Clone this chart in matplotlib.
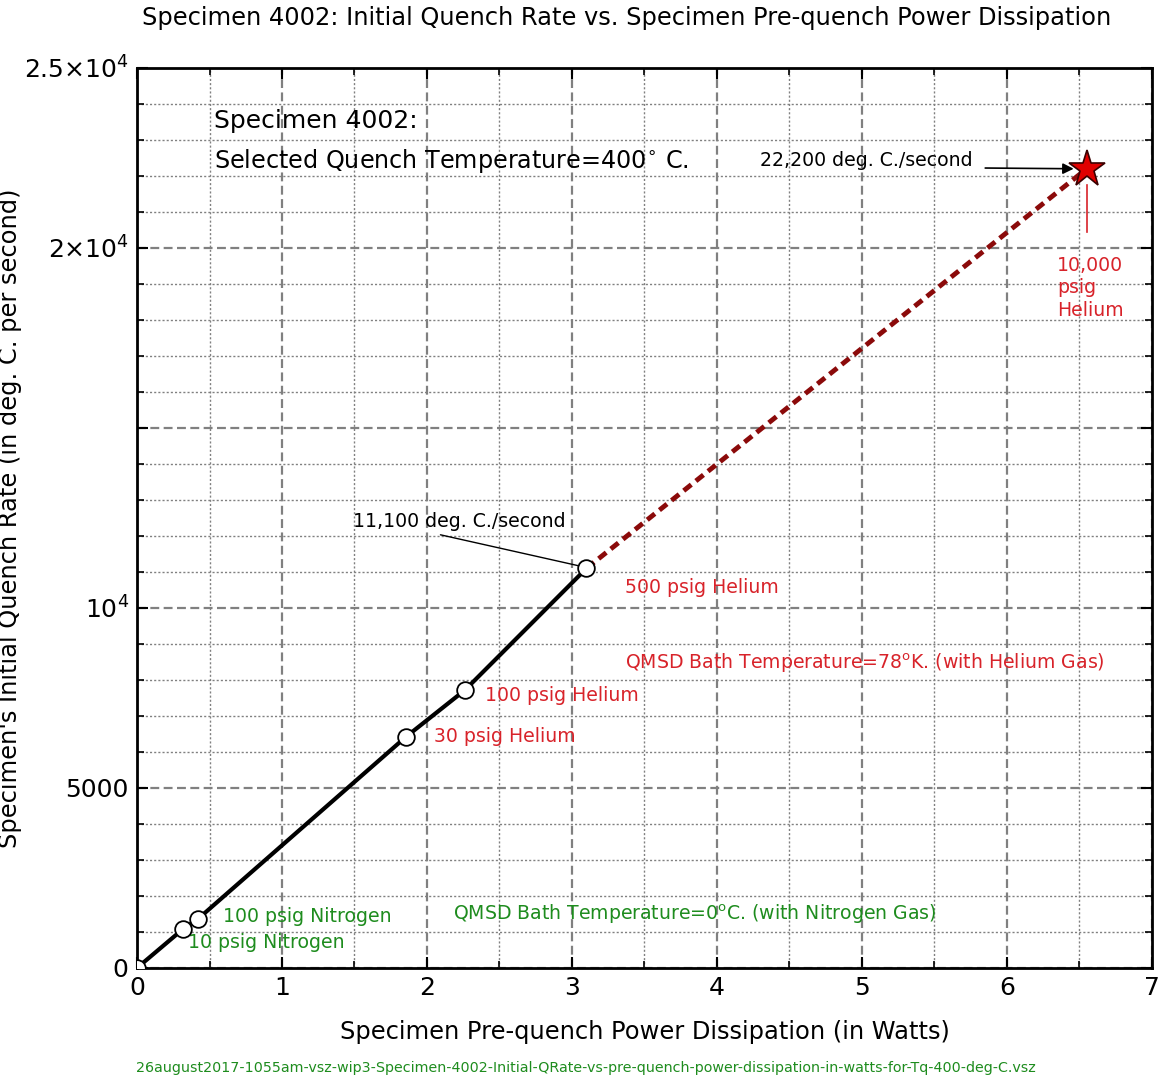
import matplotlib
matplotlib.use("Agg")
import matplotlib.pyplot as plt
from matplotlib.ticker import MultipleLocator

plt.rcParams['font.family'] = ['DejaVu Sans']
plt.rcParams['mathtext.fontset'] = 'dejavusans'

# ── data ──
labels = ["origin", "10 psig Nitrogen", "100 psig Nitrogen", "30 psig Helium",
          "100 psig Helium", "500 psig Helium"]
power_w = [0.0, 0.317, 0.42, 1.855, 2.262, 3.10]
qrate = [0, 1080, 1360, 6420, 7720, 11100]

star_power = 6.55
star_qrate = 22200

ytick_vals = [0, 5000, 10000, 15000, 20000, 25000]
ytick_labels = ["0", "5000", r"$10^4$", "", r"$2{\times}10^4$", r"$2.5{\times}10^4$"]

red = "#d8232a"
green = "#1e8c1e"

fig = plt.figure(figsize=(11.67, 10.82), dpi=100)
ax = fig.add_axes([0.1174, 0.1054, 0.8697, 0.8318])

ax.set_xlim(0, 7)
ax.set_ylim(0, 25000)

# grille : pointillés fins pour les mineures, tirets pour les majeures
ax.xaxis.set_major_locator(MultipleLocator(1))
ax.xaxis.set_minor_locator(MultipleLocator(0.5))
ax.set_yticks(ytick_vals)
ax.set_yticklabels(ytick_labels)
ax.yaxis.set_minor_locator(MultipleLocator(1000))
ax.grid(True, which='major', linestyle=(0, (4, 2)), color='#808080', linewidth=1.6)
ax.grid(True, which='minor', linestyle=(0, (1.5, 1.5)), color='#808080', linewidth=1.0)
ax.set_axisbelow(True)

ax.tick_params(which='both', direction='in', top=True, right=True, labelsize=18, pad=6)
ax.tick_params(which='major', length=8, width=1.5)
ax.tick_params(which='minor', length=5, width=1.2)
for s in ax.spines.values():
    s.set_linewidth(2)

# courbes
ax.plot(power_w, qrate, color='black', linewidth=3, zorder=4)
ax.plot([power_w[-1], star_power], [qrate[-1], star_qrate], color='#8b0a0a',
        linewidth=3.5, linestyle=(0, (2, 1.2)), zorder=4)
ax.plot(power_w, qrate, linestyle='none', marker='o', markersize=12,
        markerfacecolor='white', markeredgecolor='black', markeredgewidth=1.3,
        zorder=5)
ax.plot([star_power], [star_qrate], linestyle='none', marker='*', markersize=28,
        markerfacecolor='#e00000', markeredgecolor='#3a0000', markeredgewidth=1.2,
        zorder=6)

# annotations
fs = 13.6
ax.text(0.53, 23530, "Specimen 4002:", fontsize=18, va='center')
ax.text(0.53, 22420, "Selected Quench Temperature=400$^{\\circ}$ C.", fontsize=17.2, va='center')

ax.text(4.3, 22420, "22,200 deg. C./second", fontsize=fs, va='center')
ax.annotate("", xy=(star_power - 0.09, star_qrate), xytext=(5.85, star_qrate + 20),
            arrowprops=dict(arrowstyle='-|>', color='black', lw=1.2,
                            shrinkA=0, shrinkB=0, mutation_scale=16))
ax.plot([star_power, star_power], [20440, 21750], color=red, linewidth=1.2)
ax.text(6.345, 18890, "10,000\npsig\nHelium", color=red, fontsize=fs,
        va='center', ha='left', linespacing=1.25)

ax.annotate("11,100 deg. C./second", xy=(3.07, 11150), xytext=(1.49, 12390),
            fontsize=fs, va='center', ha='left',
            arrowprops=dict(arrowstyle='-', color='black', lw=1.0,
                            shrinkA=2, shrinkB=0, relpos=(0.34, 0)))
ax.text(3.366, 10556, "500 psig Helium", color=red, fontsize=fs, va='center')
ax.text(3.366, 8472, "QMSD Bath Temperature=78$^{\\mathrm{o}}$K. (with Helium Gas)",
        color=red, fontsize=fs, va='center')
ax.text(2.40, 7556, "100 psig Helium", color=red, fontsize=fs, va='center')
ax.text(2.048, 6417, "30 psig Helium", color=red, fontsize=fs, va='center')
ax.text(0.593, 1417, "100 psig Nitrogen", color=green, fontsize=fs, va='center')
ax.text(0.352, 694, "10 psig Nitrogen", color=green, fontsize=fs, va='center')
ax.text(2.179, 1500, "QMSD Bath Temperature=0$^{\\mathrm{o}}$C. (with Nitrogen Gas)",
        color=green, fontsize=fs, va='center')

ax.set_xlabel("Specimen Pre-quench Power Dissipation (in Watts)", fontsize=17.4, labelpad=14)
ax.set_ylabel("Specimen's Initial Quench Rate (in deg. C. per second)", fontsize=17.4)
ax.yaxis.set_label_coords(-0.113, 0.5)
fig.text(0.537, 0.983, "Specimen 4002: Initial Quench Rate vs. Specimen Pre-quench Power Dissipation",
         fontsize=17.4, ha='center', va='center')
fig.text(0.502, 0.0129,
         "26august2017-1055am-vsz-wip3-Specimen-4002-Initial-QRate-vs-pre-quench-power-dissipation-in-watts-for-Tq-400-deg-C.vsz",
         fontsize=10.3, color=green, ha='center', va='center')

fig.savefig("out.png", dpi=100)
